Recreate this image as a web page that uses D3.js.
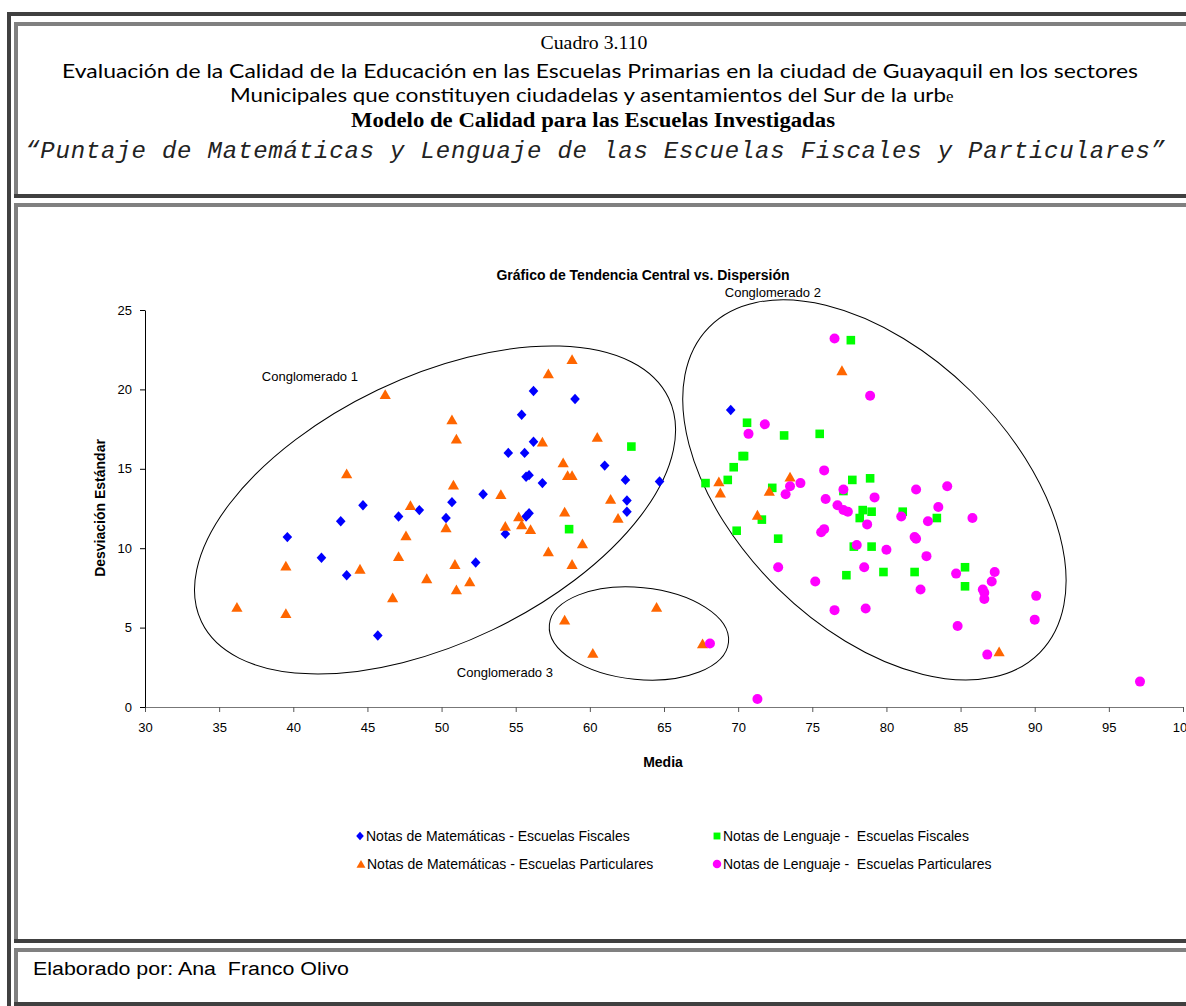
<!DOCTYPE html>
<html>
<head>
<meta charset="utf-8">
<script src="https://cdn.jsdelivr.net/npm/d3@7"></script>
<style>
  html, body { margin: 0; padding: 0; background: #fff; overflow: hidden; }
  svg { display: block; }
  text { white-space: pre; }
</style>
</head>
<body>
<svg id="page" width="1186" height="1006"></svg>
<script>
// ---- Data: each point is [media, desviación estándar] of one school ----
const matFiscales = [
  [39.6,10.7],[41.9,9.4],[43.6,8.3],[43.2,11.7],[44.7,12.7],[47.1,12.0],[48.5,12.4],[45.7,4.5],
  [50.3,11.9],[50.7,12.9],[52.3,9.1],[52.8,13.4],[54.3,10.9],[54.5,16.0],[55.4,18.4],[55.6,16.0],
  [55.7,14.5],[55.9,14.6],[55.7,12.0],[55.9,12.2],[56.2,19.9],[56.2,16.7],[56.8,14.1],[59.0,19.4],
  [61.0,15.2],[62.4,14.3],[62.5,13.0],[62.5,12.3],[64.7,14.2],[69.5,18.7]
];
const lenFiscales = [
  [62.8,16.4],[58.6,11.2],[77.6,23.1],[70.6,17.9],[73.1,17.1],[75.5,17.2],[70.3,15.8],[70.4,15.8],
  [69.7,15.1],[69.3,14.3],[67.8,14.1],[72.3,13.8],[77.7,14.3],[78.9,14.4],[77.1,13.6],[71.6,11.8],
  [69.9,11.1],[72.7,10.6],[78.4,12.4],[79.0,12.3],[78.2,11.9],[81.1,12.3],[83.4,11.9],[77.8,10.1],
  [79.0,10.1],[77.3,8.3],[79.8,8.5],[81.9,8.5],[85.3,8.8],[85.3,7.6]
];
const matParticulares = [
  [36.2,6.3],[39.5,8.9],[39.5,5.9],[43.6,14.7],[44.5,8.7],[46.2,19.7],[46.7,6.9],[47.1,9.5],
  [47.6,10.8],[47.9,12.7],[49.0,8.1],[50.3,11.3],[50.7,18.1],[50.8,14.0],[50.9,9.0],[51.0,16.9],
  [51.0,7.4],[51.9,7.9],[54.0,13.4],[54.3,11.4],[55.2,12.0],[55.4,11.5],[56.0,11.2],[56.8,16.7],
  [57.2,21.0],[57.2,9.8],[58.2,15.4],[58.3,12.3],[58.3,5.5],[58.5,14.6],[58.8,14.6],[58.8,21.9],
  [58.8,9.0],[59.5,10.3],[60.2,3.4],[60.5,17.0],[61.4,13.1],[61.9,11.9],[64.5,6.3],[67.6,4.0],
  [68.7,14.2],[68.8,13.5],[71.3,12.1],[72.1,13.6],[73.5,14.5],[77.0,21.2],[87.6,3.5]
];
const lenParticulares = [
  [76.5,23.2],[78.9,19.6],[71.8,17.8],[70.7,17.2],[75.8,14.9],[74.2,14.1],[73.5,13.9],[73.2,13.4],
  [77.1,13.7],[79.2,13.2],[75.9,13.1],[76.7,12.7],[77.1,12.4],[77.4,12.3],[78.7,11.5],[81.0,12.0],
  [82.0,13.7],[82.8,11.7],[83.5,12.6],[75.8,11.2],[75.6,11.0],[81.9,10.7],[82.0,10.6],[78.0,10.2],
  [80.0,9.9],[82.7,9.5],[78.5,8.8],[72.7,8.8],[75.2,7.9],[82.3,7.4],[76.5,6.1],[78.6,6.2],
  [68.1,4.0],[71.3,0.5],[84.1,13.9],[85.8,11.9],[84.7,8.4],[87.3,8.5],[87.1,7.9],[86.5,7.4],
  [86.6,7.2],[86.6,6.8],[90.1,7.0],[90.0,5.5],[84.8,5.1],[86.8,3.3],[97.1,1.6]
];

const seriesNames = [
  "Notas de Matemáticas - Escuelas Fiscales",
  "Notas de Lenguaje -  Escuelas Fiscales",
  "Notas de Matemáticas - Escuelas Particulares",
  "Notas de Lenguaje -  Escuelas Particulares"
];
const xTicks = [30, 35, 40, 45, 50, 55, 60, 65, 70, 75, 80, 85, 90, 95, 100];
const yTicks = [0, 5, 10, 15, 20, 25];
const clusterNames = ["Conglomerado 1", "Conglomerado 2", "Conglomerado 3"];
// cluster centres and label anchors, in chart units [media, desviación]
const clusterCentres = [[49.56, 12.41], [79.19, 13.67], [63.31, 4.63]];
const clusterLabelAt = [[41.12, 20.84], [72.34, 26.13], [54.27, 2.20]];

const headerLines = [
  "Cuadro 3.110",
  "Evaluación de la Calidad de la Educación en las Escuelas Primarias en la ciudad de Guayaquil en los sectores",
  "Municipales que constituyen ciudadelas y asentamientos del Sur de la urb",
  "Modelo de Calidad para las Escuelas Investigadas",
  "\u201CPuntaje de Matemáticas y Lenguaje de las Escuelas Fiscales y Particulares\u201D"
];
const chartTitle = "Gráfico de Tendencia Central vs. Dispersión";
const xTitle = "Media";
const yTitle = "Desviación Estándar";
const footerText = "Elaborado por: Ana  Franco Olivo";

// ---- Page frame (table-like bevelled borders) ----
const svg = d3.select("#page");
const W = 1186, H = 1006;
const dark = "#404040", grey = "#808080";
svg.append("rect").attr("x", 0).attr("y", 0).attr("width", W).attr("height", H).attr("fill", "#fff");

const frame = svg.append("g");
frame.append("rect").attr("x", 7).attr("y", 12).attr("width", W - 7).attr("height", 4).attr("fill", dark);
frame.append("rect").attr("x", 7).attr("y", 12).attr("width", 4).attr("height", H - 12).attr("fill", dark);
const cells = [[22, 198], [203, 943], [948, 1006]];
cells.forEach(([top, bottom]) => {
  frame.append("rect").attr("x", 14).attr("y", top).attr("width", W - 14).attr("height", 4).attr("fill", grey);
  frame.append("rect").attr("x", 14).attr("y", top).attr("width", 4).attr("height", bottom - top).attr("fill", grey);
  frame.append("rect").attr("x", 14).attr("y", bottom - 4).attr("width", W - 14).attr("height", 4).attr("fill", dark);
});

// ---- Header ----
const header = svg.append("g").attr("fill", "#000");
header.append("text").attr("x", 594).attr("y", 49).attr("text-anchor", "middle")
  .attr("font-family", "Liberation Serif, serif").attr("font-size", 19)
  .attr("textLength", 107).attr("lengthAdjust", "spacingAndGlyphs").text(headerLines[0]);
header.append("text").attr("x", 600).attr("y", 78).attr("text-anchor", "middle")
  .attr("font-family", "Lato, sans-serif").attr("font-size", 19)
  .attr("textLength", 1076).attr("lengthAdjust", "spacingAndGlyphs").text(headerLines[1]);
const l3 = header.append("text").attr("x", 230).attr("y", 102)
  .attr("font-family", "Lato, sans-serif").attr("font-size", 19);
l3.append("tspan").attr("textLength", 716).attr("lengthAdjust", "spacingAndGlyphs").text(headerLines[2]);
l3.append("tspan").attr("font-family", "Liberation Serif, serif").attr("font-size", 17).text("e");
header.append("text").attr("x", 593).attr("y", 127).attr("text-anchor", "middle")
  .attr("font-family", "Liberation Serif, serif").attr("font-weight", "bold").attr("font-size", 20)
  .attr("textLength", 484).attr("lengthAdjust", "spacingAndGlyphs").text(headerLines[3]);
header.append("text").attr("x", 595).attr("y", 158).attr("text-anchor", "middle")
  .attr("font-family", "Liberation Mono, monospace").attr("font-style", "italic").attr("font-size", 24)
  .attr("fill", "#222")
  .attr("textLength", 1140).attr("lengthAdjust", "spacing").text(headerLines[4]);

// ---- Chart ----
const x = d3.scaleLinear().domain([30, 100]).range([145, 1183]);
const y = d3.scaleLinear().domain([0, 25]).range([707, 310]);
const font = "Liberation Sans, Arial, sans-serif";

const chart = svg.append("g").attr("font-family", font);

chart.append("text").attr("x", 643).attr("y", 280).attr("text-anchor", "middle")
  .attr("font-weight", "bold").attr("font-size", 14).text(chartTitle);

const xAxis = chart.append("g").attr("transform", `translate(0,${y(0)})`)
  .call(d3.axisBottom(x).tickValues(xTicks).tickSize(5).tickPadding(11).tickSizeOuter(0));
xAxis.select(".domain").attr("stroke", "#777");
xAxis.selectAll(".tick line").attr("stroke", "#555");
xAxis.selectAll("text").attr("font-family", font).attr("font-size", 13).attr("fill", "#000");

const yAxis = chart.append("g").attr("transform", `translate(${x(30)},0)`)
  .call(d3.axisLeft(y).tickValues(yTicks).tickSize(5).tickPadding(8).tickSizeOuter(0));
yAxis.select(".domain").attr("stroke", "#000");
yAxis.selectAll(".tick line").attr("stroke", "#000");
yAxis.selectAll("text").attr("font-family", font).attr("font-size", 13).attr("fill", "#000");

chart.append("text").attr("x", 663).attr("y", 767).attr("text-anchor", "middle")
  .attr("font-weight", "bold").attr("font-size", 14).text(xTitle);
chart.append("text").attr("transform", "translate(105,508) rotate(-90)").attr("text-anchor", "middle")
  .attr("font-weight", "bold").attr("font-size", 14).text(yTitle);

// cluster outlines (radii in px, tilt in degrees)
const clusterShape = [
  { rx: 259, ry: 133, tilt: -25.6 },
  { rx: 232, ry: 138, tilt: 44.5 },
  { rx: 90, ry: 46, tilt: 5.6 }
];
const clusters = chart.append("g");
clusterNames.forEach((name, i) => {
  const [cx, cy] = clusterCentres[i];
  const s = clusterShape[i];
  clusters.append("ellipse")
    .attr("transform", `translate(${x(cx)},${y(cy)}) rotate(${s.tilt})`)
    .attr("rx", s.rx).attr("ry", s.ry)
    .attr("fill", "none").attr("stroke", "#000").attr("stroke-width", 1);
  const [lx, ly] = clusterLabelAt[i];
  clusters.append("text").attr("x", x(lx)).attr("y", y(ly)).attr("dy", "0.35em")
    .attr("text-anchor", "middle").attr("font-size", 13).text(name);
});

// marker shapes
const marker = {
  diamond: "M0,-5.2L4.8,0L0,5.2L-4.8,0Z",
  square: "M-4.3,-4.3H4.3V4.3H-4.3Z",
  triangle: "M0,-5L5.6,4.8H-5.6Z",
  circle: d3.symbol(d3.symbolCircle, Math.PI * 25)()
};
const series = [
  { data: matFiscales, color: "#0000FF", shape: "diamond" },
  { data: lenFiscales, color: "#00FF00", shape: "square" },
  { data: matParticulares, color: "#FF6600", shape: "triangle" },
  { data: lenParticulares, color: "#FF00FF", shape: "circle" }
];
series.forEach(s => {
  chart.append("g").selectAll("path").data(s.data).join("path")
    .attr("transform", d => `translate(${x(d[0])},${y(d[1])})`)
    .attr("d", marker[s.shape]).attr("fill", s.color);
});

// legend: two columns, two rows
const legendPos = [[360, 836], [717, 836], [361, 864], [717, 864]];
const legend = chart.append("g");
series.forEach((s, i) => {
  const [lx, ly] = legendPos[i];
  const sc = s.shape === "circle" ? 0.85 : 0.8;
  legend.append("path").attr("transform", `translate(${lx},${ly}) scale(${sc})`)
    .attr("d", marker[s.shape]).attr("fill", s.color);
  legend.append("text").attr("x", lx + 6).attr("y", ly).attr("dy", "0.36em")
    .attr("font-size", 14).text(seriesNames[i]);
});

// ---- Footer ----
svg.append("text").attr("x", 33).attr("y", 975).attr("font-family", font)
  .attr("font-size", 18).attr("textLength", 316).attr("lengthAdjust", "spacingAndGlyphs")
  .text(footerText);
</script>
</body>
</html>
